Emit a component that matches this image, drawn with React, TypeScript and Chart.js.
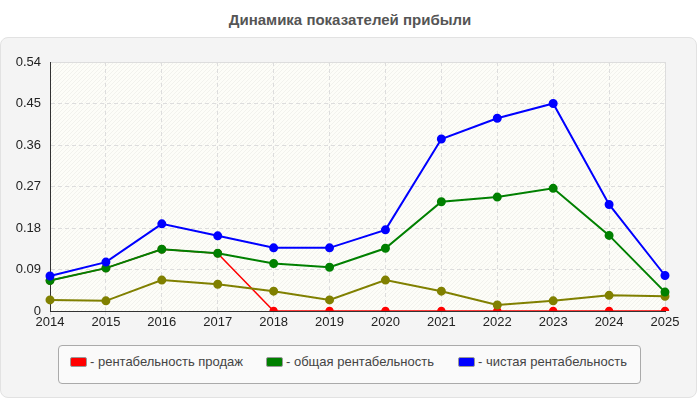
import React, { useEffect, useRef } from "react";
import { Chart, registerables } from "chart.js";

Chart.register(...registerables);

const years = ["2014", "2015", "2016", "2017", "2018", "2019", "2020", "2021", "2022", "2023", "2024", "2025"];
const salesProfitability = [0.066, 0.093, 0.134, 0.125, 0, 0, 0, 0, 0, 0, 0, 0];
const totalProfitability = [0.066, 0.093, 0.134, 0.125, 0.103, 0.095, 0.136, 0.237, 0.247, 0.266, 0.164, 0.041];
const netProfitability = [0.076, 0.106, 0.189, 0.163, 0.137, 0.137, 0.176, 0.373, 0.418, 0.450, 0.231, 0.077];
const extraSeries = [0.024, 0.022, 0.067, 0.058, 0.043, 0.024, 0.067, 0.043, 0.013, 0.022, 0.034, 0.032];
const yTicks = [0, 0.09, 0.18, 0.27, 0.36, 0.45, 0.54];
const legendLabels = ["- рентабельность продаж", "- общая рентабельность", "- чистая рентабельность"];
const legendColors = ["#ff0000", "#008000", "#0000ff"];

const FONT = "'Liberation Sans', Arial, sans-serif";

const plotBg = {
  id: "plotBg",
  beforeDraw(chart: any) {
    const { ctx, chartArea } = chart;
    if (!chartArea) return;
    const { left, top, right, bottom } = chartArea;
    ctx.save();
    ctx.fillStyle = "#fdfdf8";
    ctx.fillRect(left, top, right - left, bottom - top);
    ctx.beginPath();
    ctx.rect(left, top, right - left, bottom - top);
    ctx.clip();
    ctx.strokeStyle = "#f2f2ed";
    ctx.lineWidth = 1;
    const h = bottom - top;
    for (let x = left - h; x < right; x += 4) {
      ctx.beginPath();
      ctx.moveTo(x, bottom);
      ctx.lineTo(x + h, top);
      ctx.stroke();
    }
    ctx.restore();
    ctx.save();
    ctx.strokeStyle = "#dddddd";
    ctx.lineWidth = 1;
    ctx.beginPath();
    ctx.moveTo(left, top + 0.5);
    ctx.lineTo(right + 0.5, top + 0.5);
    ctx.lineTo(right + 0.5, bottom);
    ctx.stroke();
    ctx.restore();
  },
};

const legendSwatchX = [70, 266, 458];

export default function App() {
  const ref = useRef<HTMLCanvasElement>(null);
  useEffect(() => {
    if (!ref.current) return;
    const mk = (data: number[], color: string, width: number) => ({
      data,
      borderColor: color,
      backgroundColor: color,
      pointBackgroundColor: color,
      pointBorderColor: color,
      borderWidth: width,
      pointRadius: 3.5,
      pointHoverRadius: 3.5,
      tension: 0,
      fill: false,
    });
    const chart = new Chart(ref.current, {
      type: "line",
      data: {
        labels: years,
        datasets: [
          { ...mk(netProfitability, "#0000ff", 2), label: legendLabels[2], order: 1 },
          { ...mk(totalProfitability, "#008000", 2), label: legendLabels[1], order: 2 },
          { ...mk(extraSeries, "#808000", 2), label: "", order: 3 },
          { ...mk(salesProfitability, "#ff0000", 1.5), label: legendLabels[0], order: 4 },
        ],
      },
      options: {
        animation: false,
        responsive: false,
        maintainAspectRatio: false,
        layout: { padding: { top: 22, right: 35, left: 0, bottom: 0 } },
        plugins: {
          legend: { display: false },
          tooltip: { enabled: false },
          title: { display: false },
        },
        scales: {
          x: {
            type: "category",
            offset: false,
            grid: {
              color: "#dddddd",
              tickLength: 4,
              drawTicks: true,
            },
            border: { color: "#333333", dash: [4, 3] as any },
            ticks: {
              color: "#222222",
              font: { family: FONT, size: 13 },
              padding: 0,
              maxRotation: 0,
              autoSkip: false,
            },
            afterFit(axis: any) {
              axis.height = 29;
            },
          },
          y: {
            min: 0,
            max: 0.54,
            afterBuildTicks(axis: any) {
              axis.ticks = yTicks.map((v) => ({ value: v }));
            },
            grid: { color: "#dddddd", tickLength: 0 },
            border: { color: "#333333", dash: [4, 3] as any },
            ticks: {
              color: "#222222",
              font: { family: FONT, size: 13 },
              padding: 9,
              callback: (v: any) => String(Number(v)),
            },
            afterFit(axis: any) {
              axis.width = 50;
            },
          },
        },
      },
      plugins: [plotBg],
    });
    return () => chart.destroy();
  }, []);

  return (
    <div style={{ position: "absolute", left: 0, top: 0, width: 700, height: 400, background: "#ffffff", fontFamily: FONT }}>
      <div
        style={{
          position: "absolute",
          left: 0,
          top: 11,
          width: 700,
          textAlign: "center",
          fontFamily: FONT,
          fontWeight: "bold",
          fontSize: 15,
          color: "#555555",
        }}
      >
        Динамика показателей прибыли
      </div>
      <div
        style={{
          position: "absolute",
          left: 0,
          top: 37,
          width: 695,
          height: 359,
          background: "#f4f4f4",
          border: "1px solid #e2e2e2",
          borderRadius: 8,
        }}
      />
      <canvas ref={ref} width={700} height={300} style={{ position: "absolute", left: 0, top: 40, width: 700, height: 300 }} />
      <div
        style={{
          position: "absolute",
          left: 58,
          top: 345,
          width: 583,
          height: 39,
          boxSizing: "border-box",
          background: "#fafafa",
          border: "1px solid #aaaaaa",
          borderRadius: 4,
        }}
      />
      {legendLabels.map((l, i) => (
        <React.Fragment key={i}>
          <span
            style={{
              position: "absolute",
              left: legendSwatchX[i],
              top: 357,
              width: 17,
              height: 10,
              boxSizing: "border-box",
              background: legendColors[i],
              border: "1px solid #999",
              borderRadius: 2,
            }}
          />
          <span
            style={{
              position: "absolute",
              left: legendSwatchX[i] + 20,
              top: 354,
              fontSize: 13,
              lineHeight: "16px",
              color: "#444444",
              fontFamily: FONT,
              whiteSpace: "nowrap",
            }}
          >
            {l}
          </span>
        </React.Fragment>
      ))}
    </div>
  );
}
